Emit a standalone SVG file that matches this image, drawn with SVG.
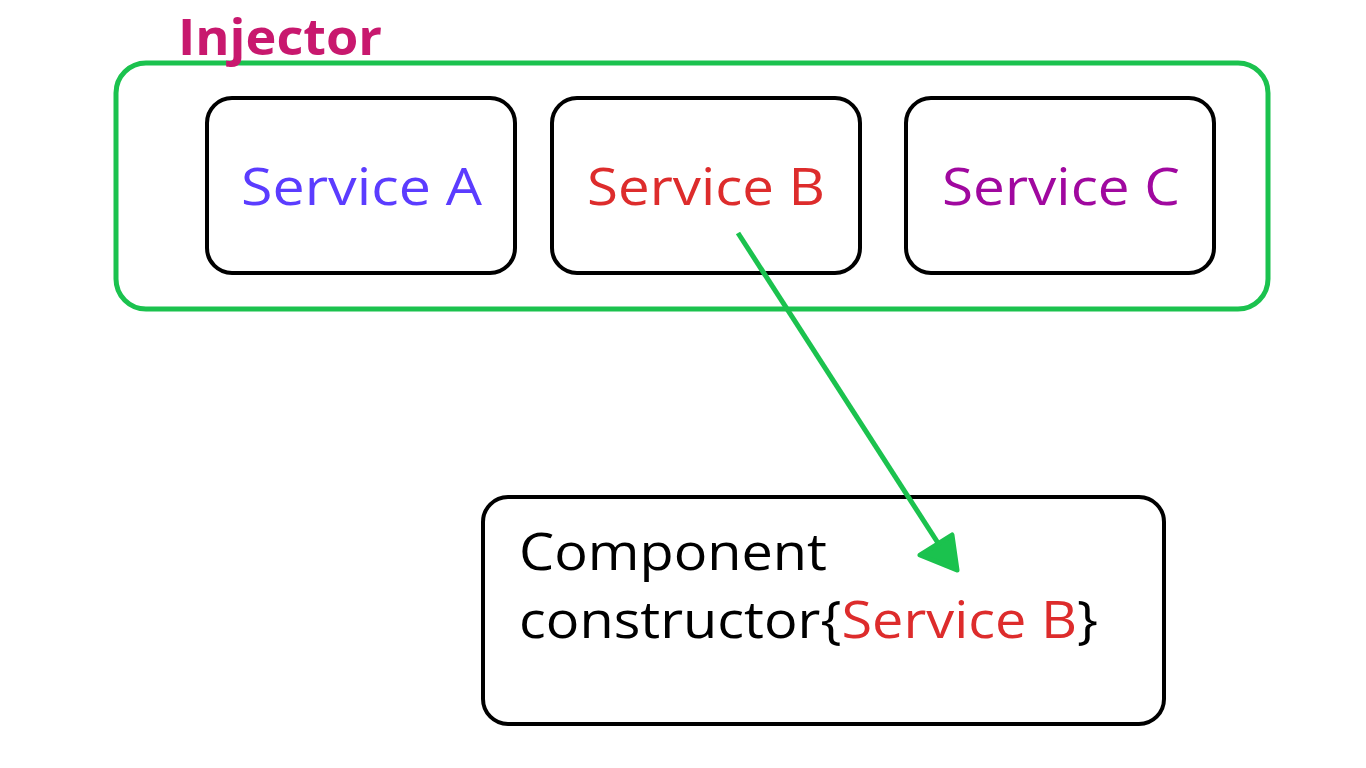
<svg xmlns="http://www.w3.org/2000/svg" width="1366" height="768" viewBox="0 0 1366 768">
<defs>
<style>
.box{fill:#fff;stroke:#000;stroke-width:4}
.t{font-family:"Open Sans","Noto Sans",sans-serif;font-size:52px}
</style>
</defs>
<rect width="1366" height="768" fill="#fff"/>
<g id="injector">
<rect x="116" y="63" width="1152" height="246" rx="30" fill="none" stroke="#1bc24e" stroke-width="5"/>
<text x="178" y="55" font-family="Open Sans,Noto Sans,sans-serif" font-weight="bold" font-size="50" fill="#c8186e" textLength="204" lengthAdjust="spacingAndGlyphs">Injector</text>
</g>
<g id="serviceA">
<rect class="box" x="207" y="98" width="308" height="175" rx="25"/>
<text class="t" x="241" y="205" fill="#5b3cff" textLength="241" lengthAdjust="spacingAndGlyphs">Service A</text>
</g>
<g id="serviceB">
<rect class="box" x="552" y="98" width="308" height="175" rx="25"/>
<text class="t" x="587" y="205" fill="#dd2c2c" textLength="238" lengthAdjust="spacingAndGlyphs">Service B</text>
</g>
<g id="serviceC">
<rect class="box" x="906" y="98" width="308" height="175" rx="25"/>
<text class="t" x="942" y="205" fill="#a0089f" textLength="238" lengthAdjust="spacingAndGlyphs">Service C</text>
</g>
<g id="component">
<rect class="box" x="483" y="497" width="681" height="227" rx="25"/>
<text class="t" x="519" y="570" fill="#000" textLength="308" lengthAdjust="spacingAndGlyphs">Component</text>
<text class="t" x="519" y="638" fill="#000" textLength="579" lengthAdjust="spacingAndGlyphs">constructor{<tspan fill="#dd2c2c">Service B</tspan>}</text>
</g>
<g id="connectors">
<line x1="738" y1="233" x2="938" y2="543" stroke="#1bc24e" stroke-width="5"/>
<path d="M920,555 L952,535 L957,570 Z" fill="#1bc24e" stroke="#1bc24e" stroke-width="5" stroke-linejoin="round"/>
</g>
</svg>
